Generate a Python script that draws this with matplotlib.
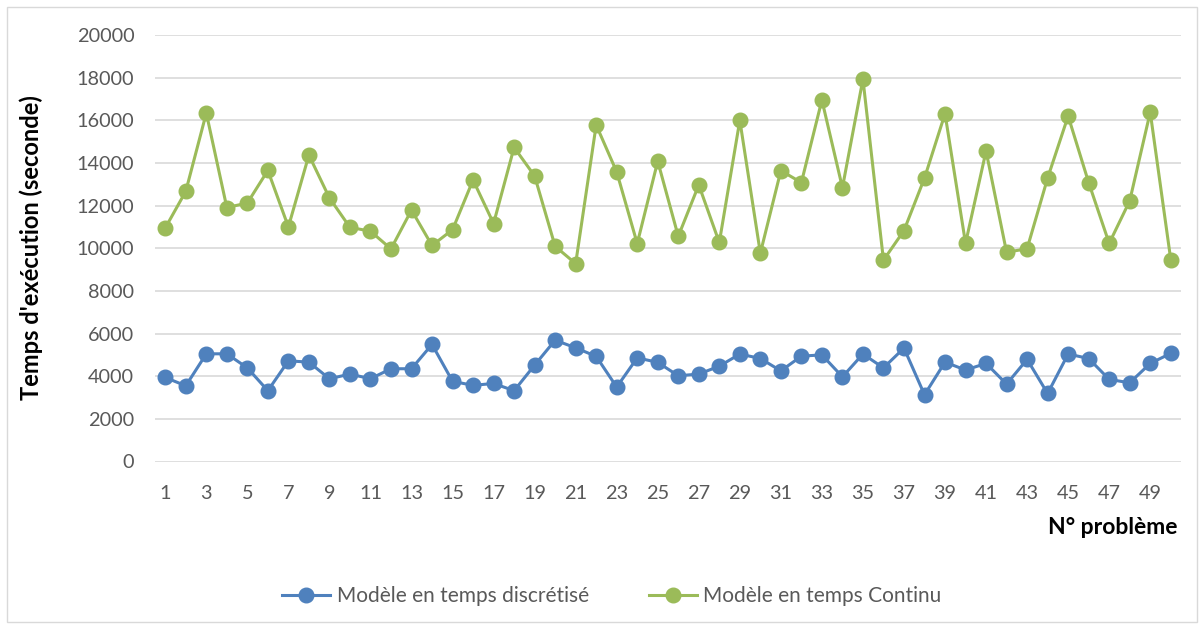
import matplotlib
matplotlib.use("Agg")
import matplotlib.pyplot as plt
from matplotlib.patches import Rectangle

problems = list(range(1, 51))
discret = [3940, 3550, 5050, 5050, 4390, 3320, 4720, 4660, 3880, 4100,
           3880, 4350, 4350, 5490, 3760, 3570, 3660, 3320, 4520, 5690,
           5330, 4930, 3490, 4860, 4650, 4020, 4100, 4470, 5040, 4830,
           4250, 4940, 5000, 3970, 5040, 4390, 5320, 3130, 4660, 4290,
           4600, 3630, 4790, 3190, 5040, 4830, 3850, 3690, 4600, 5070]
continu = [10950, 12670, 16340, 11910, 12120, 13650, 11000, 14370, 12360, 10980,
           10800, 9970, 11790, 10130, 10870, 13200, 11160, 14730, 13390, 10090,
           9280, 15780, 13580, 10220, 14080, 10560, 12970, 10270, 16000, 9770,
           13640, 13080, 16950, 12840, 17930, 9440, 10830, 13290, 16310, 10230,
           14560, 9810, 9980, 13290, 16200, 13080, 10230, 12220, 16380, 9470]
yticks = [0, 2000, 4000, 6000, 8000, 10000, 12000, 14000, 16000, 18000, 20000]
xtick_labels = [str(i) for i in range(1, 51, 2)]

label_d = "Modèle en temps discrétisé"
label_c = "Modèle en temps Continu"

plt.rcParams['font.family'] = ['Lato', 'DejaVu Sans']

fig = plt.figure(figsize=(12.04, 6.29), dpi=100)
fig.patches.append(Rectangle((7/1204, 7/629), 1 - 14/1204, 1 - 14/629,
                             transform=fig.transFigure, fill=False,
                             edgecolor='#d9d9d9', linewidth=1))
ax = fig.add_axes([155/1204, 1 - 461.5/629, (1181 - 155)/1204, (461.5 - 35)/629])

blue = '#4F81BD'
green = '#9BBB59'
ax.plot(problems, discret, color=blue, lw=2.2, marker='o', ms=10.5, label=label_d, zorder=3)
ax.plot(problems, continu, color=green, lw=2.2, marker='o', ms=10.5, label=label_c, zorder=3)

ax.set_xlim(0.5, 50.5)
ax.set_ylim(0, 20000)
ax.set_yticks(yticks)
ax.set_yticklabels([str(v) for v in yticks])
ax.set_xticks(list(range(1, 51, 2)))
ax.set_xticklabels(xtick_labels)
ax.grid(axis='y', color='#d9d9d9', lw=1.2, zorder=0)
ax.set_axisbelow(True)
for s in ax.spines.values():
    s.set_visible(False)
ax.tick_params(axis='both', length=0, labelsize=14.3, labelcolor='#595959')
ax.tick_params(axis='x', pad=17)
ax.tick_params(axis='y', pad=15)

fig.text(31/1204, 1 - 248/629, "Temps d'exécution (seconde)", rotation=90,
         ha='center', va='center', fontsize=17, fontweight='bold', color='black')
fig.text(1178/1204, 1 - 527/629, "N° problème", ha='right', va='center',
         fontsize=16.5, fontweight='bold', color='black')

fig.legend(loc='center', bbox_to_anchor=(612/1204, 1 - 596/629), ncol=2, frameon=False,
           fontsize=15, handlelength=2.3, handletextpad=0.3, columnspacing=2.9,
           labelcolor='#595959')

fig.savefig('out.png', dpi=100)
